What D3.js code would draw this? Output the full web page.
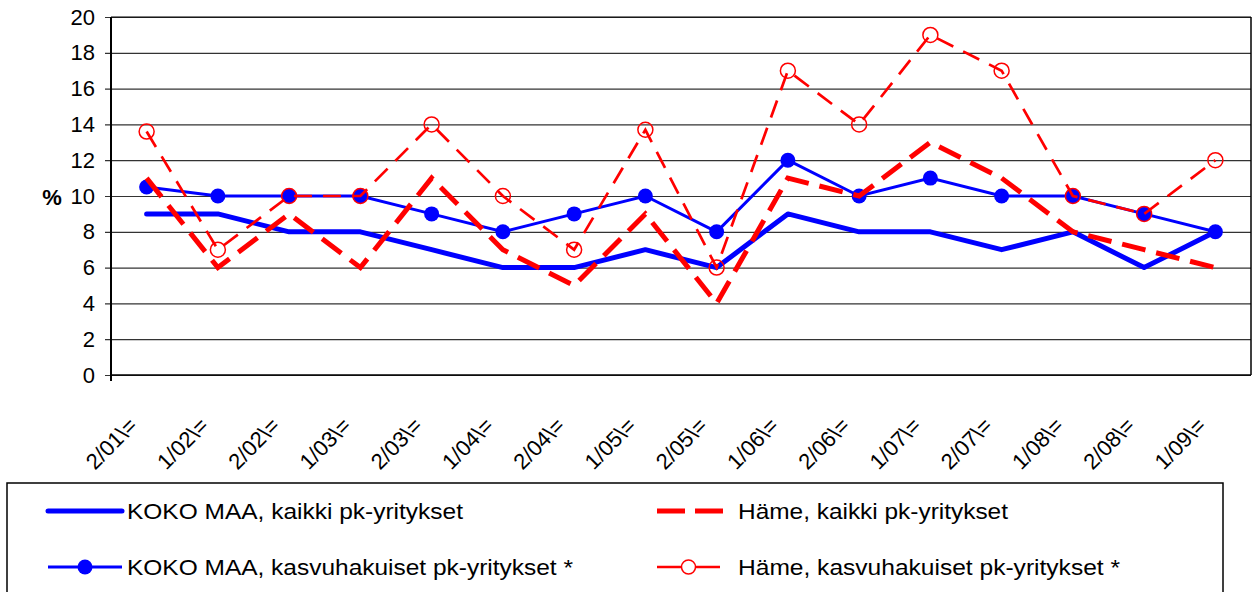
<!DOCTYPE html>
<html>
<head>
<meta charset="utf-8">
<script src="https://cdn.jsdelivr.net/npm/d3@7"></script>
<style>
  html, body { margin: 0; padding: 0; background: #fff; }
  svg { display: block; font-family: "Liberation Sans", Arial, sans-serif; }
</style>
</head>
<body>
<svg id="chart" width="1253" height="592"></svg>
<script>
const categories = ["2/01\\=", "1/02\\=", "2/02\\=", "1/03\\=", "2/03\\=", "1/04\\=", "2/04\\=", "1/05\\=",
                    "2/05\\=", "1/06\\=", "2/06\\=", "1/07\\=", "2/07\\=", "1/08\\=", "2/08\\=", "1/09\\="];
const kokoKaikki   = [9, 9, 8, 8, 7, 6, 6, 7, 6, 9, 8, 8, 7, 8, 6, 8];
const kokoKasvu    = [10.5, 10, 10, 10, 9, 8, 9, 10, 8, 12, 10, 11, 10, 10, 9, 8];
const hameKaikki   = [11, 6, 9, 6, 11, 7, 5, 9, 4, 11, 10, 13, 11, 8, 7, 6];
const hameKasvu    = [13.6, 7, 10, 10, 14, 10, 7, 13.7, 6, 17, 14, 19, 17, 10, 9, 12];
const yTicks = [0, 2, 4, 6, 8, 10, 12, 14, 16, 18, 20];
const seriesNames = ["KOKO MAA, kaikki pk-yritykset", "KOKO MAA, kasvuhakuiset pk-yritykset *",
                     "Häme, kaikki pk-yritykset", "Häme, kasvuhakuiset pk-yritykset *"];

const svg = d3.select("#chart");
const L = 111, R = 1251, T = 17, B = 375;
const x = d3.scaleBand().domain(categories).range([L, R]);
const cx = c => x(c) + x.bandwidth() / 2;
const y = d3.scaleLinear().domain([0, 20]).range([B, T]);

const BLUE = "#0000ff", RED = "#ff0000";

// gridlines
const yAxis = d3.axisLeft(y).tickValues(yTicks).tickSize(-(R - L)).tickSizeOuter(0).tickPadding(16);
const gy = svg.append("g").attr("transform", `translate(${L},0)`).call(yAxis);
gy.select(".domain").remove();
gy.selectAll(".tick line").attr("stroke", "#333").attr("stroke-width", 1.2).attr("x1", -6);
gy.selectAll(".tick text").attr("font-size", 22).attr("fill", "#000")
  .attr("font-family", "Liberation Sans, Arial, sans-serif");

// frame
svg.append("line").attr("x1", L).attr("x2", R).attr("y1", T).attr("y2", T).attr("stroke", "#000").attr("stroke-width", 1.2);
svg.append("line").attr("x1", R).attr("x2", R).attr("y1", T).attr("y2", B).attr("stroke", "#000").attr("stroke-width", 1.5);
svg.append("line").attr("x1", L).attr("x2", L).attr("y1", T).attr("y2", B + 6).attr("stroke", "#000").attr("stroke-width", 2);
svg.append("line").attr("x1", L).attr("x2", R).attr("y1", B).attr("y2", B).attr("stroke", "#000").attr("stroke-width", 1.5);

// % label
svg.append("text").attr("x", 52).attr("y", 205).attr("text-anchor", "middle")
  .attr("font-size", 22).attr("font-weight", "bold").text("%");

// x labels
svg.append("g").selectAll("text").data(categories).join("text")
  .attr("transform", d => `translate(${cx(d) - 8},427) rotate(-45)`)
  .attr("text-anchor", "end").attr("font-size", 22).attr("fill", "#000")
  .text(d => d);

const line = vals => d3.line().x((v, i) => cx(categories[i])).y(v => y(v))(vals);

// KOKO MAA kaikki
svg.append("path").attr("d", line(kokoKaikki)).attr("fill", "none")
  .attr("stroke", BLUE).attr("stroke-width", 5).attr("stroke-linejoin", "round").attr("stroke-linecap", "round");
// KOKO MAA kasvu
svg.append("path").attr("d", line(kokoKasvu)).attr("fill", "none")
  .attr("stroke", BLUE).attr("stroke-width", 3);
svg.append("g").selectAll("circle").data(kokoKasvu).join("circle")
  .attr("cx", (v, i) => cx(categories[i])).attr("cy", v => y(v)).attr("r", 7.5).attr("fill", BLUE);
// Häme kaikki
svg.append("path").attr("d", line(hameKaikki)).attr("fill", "none")
  .attr("stroke", RED).attr("stroke-width", 5).attr("stroke-dasharray", "24,11");
// Häme kasvu
svg.append("path").attr("d", line(hameKasvu)).attr("fill", "none")
  .attr("stroke", RED).attr("stroke-width", 2.7).attr("stroke-dasharray", "18,11");
svg.append("g").selectAll("circle").data(hameKasvu).join("circle")
  .attr("cx", (v, i) => cx(categories[i])).attr("cy", v => y(v)).attr("r", 7.5)
  .attr("fill", "none").attr("stroke", RED).attr("stroke-width", 1.5);

// legend
svg.append("rect").attr("x", 7).attr("y", 483).attr("width", 1216).attr("height", 130)
  .attr("fill", "none").attr("stroke", "#000").attr("stroke-width", 1.5);
const leg = [
  {name: seriesNames[0], x1: 48, x2: 122, tx: 127, y: 511, w: 5, dash: null, color: BLUE, marker: null, len: 336},
  {name: seriesNames[1], x1: 48, x2: 122, tx: 127, y: 567, w: 3, dash: null, color: BLUE, marker: "dot", len: 446},
  {name: seriesNames[2], x1: 657, x2: 724, tx: 738, y: 511, w: 5, dash: "28,10", color: RED, marker: null, len: 270},
  {name: seriesNames[3], x1: 657, x2: 720, tx: 738, y: 567, w: 2.7, dash: null, color: RED, marker: "ring", len: 382}
];
const lg = svg.append("g").selectAll("g").data(leg).join("g");
lg.append("line").attr("x1", d => d.x1).attr("x2", d => d.x2).attr("y1", d => d.y).attr("y2", d => d.y)
  .attr("stroke", d => d.color).attr("stroke-width", d => d.w)
  .attr("stroke-linecap", d => d.marker === null && d.dash === null ? "round" : "butt")
  .attr("stroke-dasharray", d => d.dash);
lg.filter(d => d.marker === "dot").append("circle").attr("cx", d => (d.x1 + d.x2) / 2).attr("cy", d => d.y)
  .attr("r", 7.5).attr("fill", BLUE);
lg.filter(d => d.marker === "ring").append("circle").attr("cx", d => (d.x1 + d.x2) / 2).attr("cy", d => d.y)
  .attr("r", 7).attr("fill", "#fff").attr("stroke", RED).attr("stroke-width", 1.5);
lg.append("text").attr("x", d => d.tx).attr("y", d => d.y + 8).attr("font-size", 22)
  .attr("textLength", d => d.len).attr("lengthAdjust", "spacingAndGlyphs").text(d => d.name);
</script>
</body>
</html>
